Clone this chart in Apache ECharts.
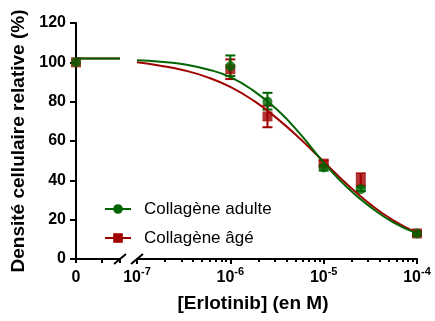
<!DOCTYPE html>
<html>
<head>
<meta charset="utf-8">
<script src="https://cdn.jsdelivr.net/npm/echarts@6/dist/echarts.min.js"></script>
<style>
  html, body { margin: 0; padding: 0; background: #fff; }
  #chart { width: 435px; height: 321px; }
</style>
</head>
<body>
<div id="chart"></div>
<script>
// concentrations d'erlotinib (M)
const concentrations = [1e-6, 2.5e-6, 1e-5, 2.5e-5, 1e-4]

// Collagène adulte : moyenne et barres d'erreur
const adulteMean = [98, 80, 46.5, 35.5, 13]
const adulteLow = [93, 76, 45, 34.5, 12]
const adulteHigh = [103.5, 84.5, 48, 36.5, 14]

// Collagène âgé
const ageMean = [96.5, 72.5, 48.5, 40.5, 13]
const ageLow = [91.5, 67, 47, 37.5, 12]
const ageHigh = [101.5, 78, 50, 43.5, 14]

// contrôle (concentration 0)
const controlAdulte = 100
const controlAge = 100
const topPlateau = 102

// courbes ajustées (log10 de la concentration)
const curveLogX = [-7, -6.75, -6.5, -6.25, -6, -5.75, -5.5, -5.25, -5, -4.75, -4.5, -4.25, -4]
const adulteCurve = [101, 100.3, 99, 96.5, 92.5, 85.5, 76, 63.5, 49, 36.5, 26.5, 18.5, 13]
const ageCurve = [100, 98.3, 96, 92.5, 87.5, 80.5, 71.5, 61, 49.5, 38, 27.8, 19.5, 13.3]

// axes
const yTicks = [0, 20, 40, 60, 80, 100, 120]
const decades = [-7, -6, -5, -4]
const zeroSegmentMax = 1.7

const GREEN = '#006400'
const RED = '#a00000'
const FONT = "'Liberation Sans', Arial, sans-serif"

// petites graduations 2..9 x 10^n
const minorTicks = []
decades.slice(0, -1).forEach(d => {
  for (let k = 2; k <= 9; k++) minorTicks.push(d + Math.log10(k))
})

const errData = (low, high) =>
  concentrations.map((c, i) => [Math.log10(c), low[i], high[i]])

const errorBars = (name, color, low, high) => ({
  name,
  type: 'custom',
  xAxisIndex: 1,
  yAxisIndex: 1,
  data: errData(low, high),
  encode: { x: 0, y: [1, 2] },
  clip: false,
  renderItem: (params, api) => {
    const x = api.value(0)
    const pLo = api.coord([x, api.value(1)])
    const pHi = api.coord([x, api.value(2)])
    const w = 5
    const style = { stroke: color, lineWidth: 2 }
    return {
      type: 'group',
      children: [
        { type: 'line', shape: { x1: pLo[0], y1: pLo[1], x2: pHi[0], y2: pHi[1] }, style },
        { type: 'line', shape: { x1: pLo[0] - w, y1: pLo[1], x2: pLo[0] + w, y2: pLo[1] }, style },
        { type: 'line', shape: { x1: pHi[0] - w, y1: pHi[1], x2: pHi[0] + w, y2: pHi[1] }, style }
      ]
    }
  }
})

const points = (name, color, symbol, values) => ({
  name,
  type: 'scatter',
  xAxisIndex: 1,
  yAxisIndex: 1,
  symbol,
  symbolSize: 10,
  clip: false,
  itemStyle: { color },
  data: concentrations.map((c, i) => [Math.log10(c), values[i]])
})

const curve = (name, color, symbol, values) => ({
  name,
  type: 'line',
  xAxisIndex: 1,
  yAxisIndex: 1,
  smooth: true,
  symbol,
  showSymbol: false,
  itemStyle: { color },
  lineStyle: { color, width: 2 },
  data: curveLogX.map((x, i) => [x, values[i]])
})

const plateau = (color) => ({
  type: 'line',
  xAxisIndex: 0,
  yAxisIndex: 0,
  symbol: 'none',
  lineStyle: { color, width: 2 },
  data: [[0, topPlateau], [zeroSegmentMax, topPlateau]]
})

const control = (color, symbol, value) => ({
  type: 'scatter',
  xAxisIndex: 0,
  yAxisIndex: 0,
  symbol,
  symbolSize: 10,
  clip: false,
  itemStyle: { color },
  data: [[0, value]]
})

const axisLineStyle = { color: '#000', width: 2 }

const option = {
  animation: false,
  textStyle: { fontFamily: FONT },
  grid: [
    { left: 76, top: 23, width: 44, height: 236 },
    { left: 137, top: 23, width: 280, height: 236 }
  ],
  legend: {
    orient: 'vertical',
    left: 99,
    top: 194,
    itemWidth: 26,
    itemHeight: 12,
    itemGap: 9,
    data: ['Collagène adulte', 'Collagène âgé'],
    textStyle: { fontSize: 17, color: '#000', fontFamily: FONT, lineHeight: 20, padding: [0, 0, 0, 8] }
  },
  xAxis: [
    {
      gridIndex: 0,
      type: 'value',
      min: 0,
      max: zeroSegmentMax,
      interval: 1,
      splitLine: { show: false },
      axisLine: { lineStyle: axisLineStyle },
      axisTick: { length: 4, lineStyle: { width: 2, color: '#000' } },
      axisLabel: {
        margin: 7,
        lineHeight: 24,
        fontSize: 16,
        fontWeight: 'bold',
        color: '#000',
        formatter: v => (v === 0 ? '0' : '')
      }
    },
    {
      gridIndex: 1,
      type: 'value',
      min: -7,
      max: -4,
      interval: 1,
      splitLine: { show: false },
      axisLine: { lineStyle: axisLineStyle },
      axisTick: { length: 5, lineStyle: { width: 2, color: '#000' } },
      axisLabel: {
        margin: 7,
        color: '#000',
        formatter: v => '{b|10}{s|' + v + '}',
        rich: {
          b: { fontSize: 16, fontWeight: 'bold', lineHeight: 24, fontFamily: FONT, color: '#000' },
          s: { fontSize: 11, fontWeight: 'bold', lineHeight: 11, verticalAlign: 'top', fontFamily: FONT, color: '#000' }
        }
      },
      name: '[Erlotinib] (en M)',
      nameLocation: 'middle',
      nameGap: 35,
      nameTextStyle: { fontSize: 19, fontWeight: 'bold', color: '#000', padding: [0, 48, 0, 0] }
    },
    {
      gridIndex: 1,
      type: 'value',
      position: 'bottom',
      min: -7,
      max: -4,
      splitLine: { show: false },
      axisLine: { show: false },
      axisTick: { length: 3, customValues: minorTicks, lineStyle: { width: 2, color: '#000' } },
      axisLabel: { show: false }
    }
  ],
  yAxis: [
    {
      gridIndex: 0,
      type: 'value',
      min: yTicks[0],
      max: yTicks[yTicks.length - 1],
      interval: 20,
      splitLine: { show: false },
      axisLine: { show: true, lineStyle: axisLineStyle },
      axisTick: { show: true, length: 6, lineStyle: { width: 2, color: '#000' } },
      axisLabel: { margin: 10, fontSize: 16, fontWeight: 'bold', color: '#000' },
      name: 'Densité cellulaire relative (%)',
      nameLocation: 'middle',
      nameGap: 48,
      nameTextStyle: { fontSize: 19, fontWeight: 'bold', color: '#000' }
    },
    {
      gridIndex: 1,
      type: 'value',
      min: yTicks[0],
      max: yTicks[yTicks.length - 1],
      show: false
    }
  ],
  series: [
    plateau(RED),
    plateau(GREEN),
    curve('Collagène âgé', RED, 'rect', ageCurve),
    curve('Collagène adulte', GREEN, 'circle', adulteCurve),
    errorBars('err-age', RED, ageLow, ageHigh),
    points('pts-age', RED, 'rect', ageMean),
    errorBars('err-adulte', GREEN, adulteLow, adulteHigh),
    points('pts-adulte', GREEN, 'circle', adulteMean),
    control(RED, 'rect', controlAge),
    control(GREEN, 'circle', controlAdulte)
  ]
}

const chart = echarts.init(document.getElementById('chart'))
chart.setOption(option)

// marques de coupure de l'axe des x
const leftEnd = chart.convertToPixel({ xAxisIndex: 0, yAxisIndex: 0 }, [zeroSegmentMax, 0])
const rightStart = chart.convertToPixel({ xAxisIndex: 1, yAxisIndex: 1 }, [-7, 0])
const slash = (p) => ({
  type: 'line',
  shape: { x1: p[0] - 6, y1: p[1] + 5, x2: p[0] + 6, y2: p[1] - 5 },
  style: { stroke: '#000', lineWidth: 2 }
})
chart.setOption({ graphic: [slash(leftEnd), slash(rightStart)] })
</script>
</body>
</html>
